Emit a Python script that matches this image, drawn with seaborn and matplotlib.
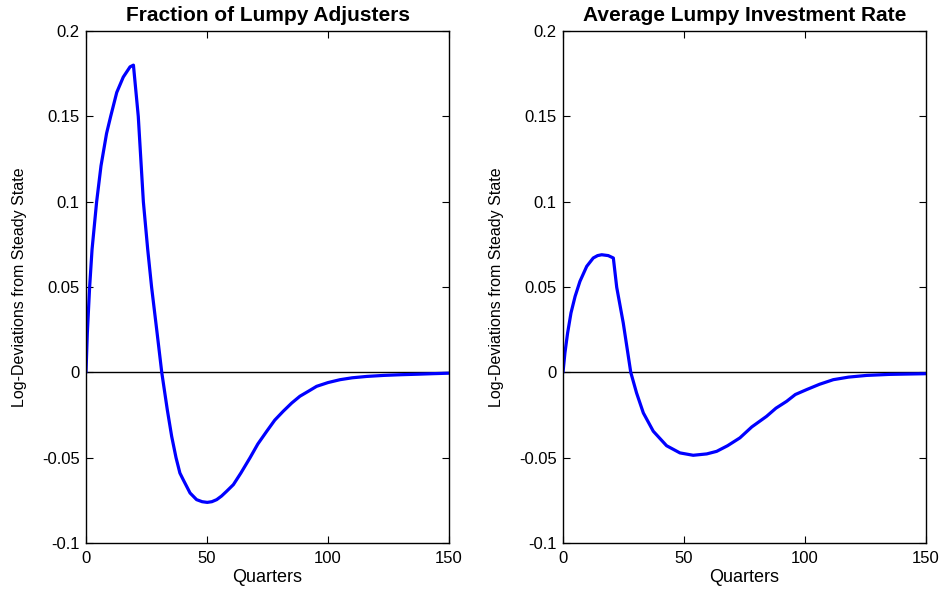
import numpy as np
import pandas as pd
import seaborn as sns
import matplotlib.pyplot as plt

# values (quarter, log-deviation)
adj_quarter = [0, 0.55, 1.5, 2.5, 4.4, 6.2, 8.5, 10.2, 12.7, 15.4, 18.2, 19.6,
               21.6, 23.7, 25.5, 27.1, 29.3, 31.3, 33.6, 35.4, 37.2, 38.8, 40.2,
               43, 45.7, 48, 50.1, 52, 54, 56, 58.1, 60.9, 64, 67.8, 71, 74.7,
               78, 81.5, 85, 88.4, 92, 95.3, 100, 105, 110, 116, 123, 130, 137,
               143, 150]
adj_value = [0, 0.023, 0.050, 0.072, 0.100, 0.121, 0.140, 0.150, 0.164, 0.173,
             0.179, 0.180,
             0.150, 0.100, 0.072, 0.050, 0.024, 0.0, -0.022, -0.0375, -0.050,
             -0.059, -0.063, -0.0707, -0.0746, -0.0758, -0.0762, -0.0758,
             -0.0746, -0.0725, -0.0697, -0.0658, -0.059, -0.050, -0.042,
             -0.0345, -0.028, -0.0228, -0.018, -0.014, -0.011, -0.0082, -0.006,
             -0.0043, -0.0032, -0.0024, -0.0018, -0.0014, -0.0011, -0.0008,
             -0.0005]

inv_quarter = [0, 0.8, 1.9, 3.3, 5, 7, 9.8, 12.5, 14.3, 16, 18.7, 20.8, 22.2,
               24.9, 28, 30.4, 33.2, 37.3, 42.8, 48.3, 53.8, 59.4, 63.5, 68,
               73.1, 78, 84.1, 88, 92.4, 96, 100.7, 106, 111.7, 118, 125.5, 135,
               150]
inv_value = [0, 0.0114, 0.023, 0.0348, 0.0445, 0.0533, 0.0621, 0.067, 0.0684,
             0.0689, 0.0684, 0.067, 0.0498, 0.0289, 0.0, -0.0121, -0.0238,
             -0.0345, -0.043, -0.0472, -0.0486, -0.0478, -0.0463, -0.043,
             -0.0384, -0.032, -0.0258, -0.021, -0.017, -0.013, -0.0101, -0.007,
             -0.0043, -0.0028, -0.0018, -0.0012, -0.0008]

titles = ["Fraction of Lumpy Adjusters", "Average Lumpy Investment Rate"]
x_ticks = [0, 50, 100, 150]
y_ticks = [-0.1, -0.05, 0, 0.05, 0.1, 0.15, 0.2]
y_tick_labels = ["-0.1", "-0.05", "0", "0.05", "0.1", "0.15", "0.2"]

sns.set_style("ticks")
plt.rcParams['font.family'] = ['Liberation Sans', 'DejaVu Sans']
plt.rcParams['text.color'] = 'black'
plt.rcParams['axes.labelcolor'] = 'black'
plt.rcParams['xtick.color'] = 'black'
plt.rcParams['ytick.color'] = 'black'

fig = plt.figure(figsize=(9.46, 5.90), dpi=100)
ax1 = fig.add_axes([86/946, 47/590, 363/946, 512/590])
ax2 = fig.add_axes([563/946, 47/590, 363/946, 512/590])

panels = [
    (ax1, pd.DataFrame({"q": adj_quarter, "v": adj_value}), titles[0]),
    (ax2, pd.DataFrame({"q": inv_quarter, "v": inv_value}), titles[1]),
]

for ax, df, title in panels:
    ax.axhline(0, color="black", lw=1.0, zorder=1)
    sns.lineplot(data=df, x="q", y="v", ax=ax, color="#0000ff", lw=2.3,
                 zorder=2, sort=False)
    ax.set_xlim(0, 150)
    ax.set_ylim(-0.1, 0.2)
    ax.set_xticks(x_ticks)
    ax.set_xticklabels([str(t) for t in x_ticks])
    ax.set_yticks(y_ticks)
    ax.set_yticklabels(y_tick_labels)
    ax.tick_params(direction="in", top=True, right=True, length=5,
                   width=0.8, labelsize=12, color="black", labelcolor="black")
    ax.tick_params(axis="x", pad=6)
    ax.tick_params(axis="y", pad=4.5)
    for s in ax.spines.values():
        s.set_linewidth(1.0)
        s.set_color("black")
    ax.set_title(title, fontsize=15, fontweight="bold", pad=7, color="black")
    ax.set_xlabel("Quarters", fontsize=13, labelpad=2, color="black")
    ax.set_ylabel("Log-Deviations from Steady State", fontsize=11.5,
                  labelpad=11, color="black")

fig.savefig("out.png", dpi=100)
